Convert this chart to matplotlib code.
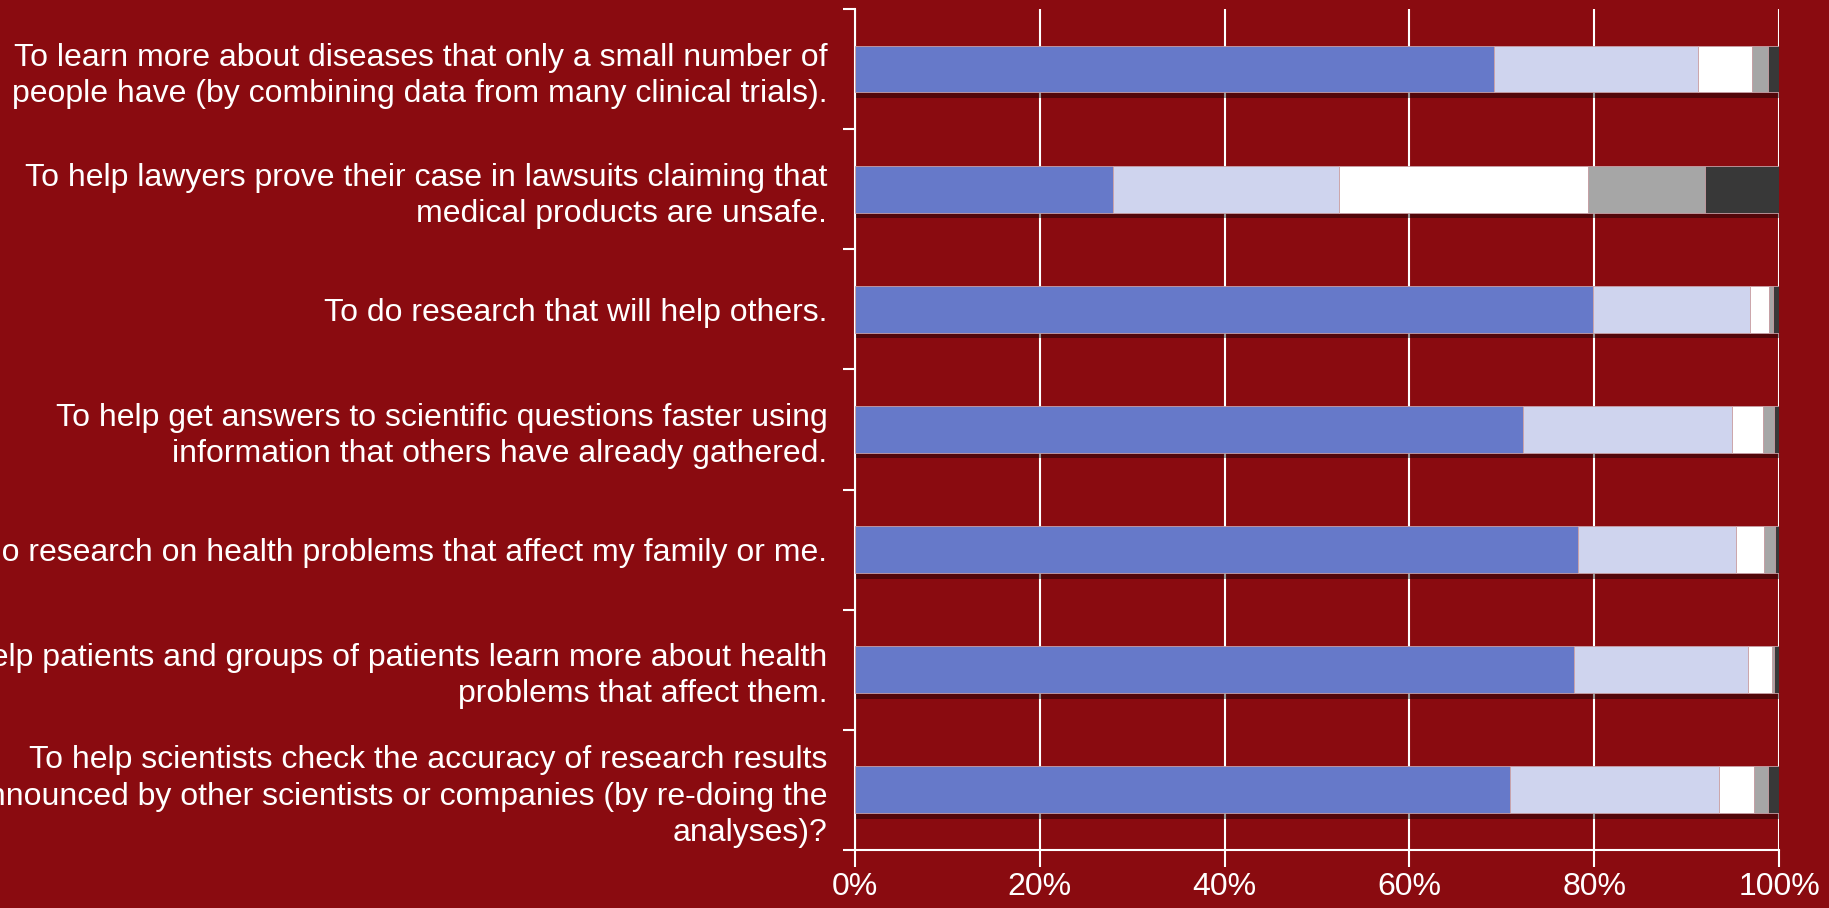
import matplotlib.pyplot as plt
import matplotlib.patheffects as pe
import numpy as np
from matplotlib.ticker import FixedLocator, PercentFormatter

plt.rcParams['font.family'] = ['Liberation Sans', 'DejaVu Sans']

categories = [
    "To learn more about diseases that only a small number of\npeople have (by combining data from many clinical trials).",
    "To help lawyers prove their case in lawsuits claiming that\nmedical products are unsafe.",
    "To do research that will help others.",
    "To help get answers to scientific questions faster using\ninformation that others have already gathered.",
    "To do research on health problems that affect my family or me.",
    "To help patients and groups of patients learn more about health\nproblems that affect them.",
    "To help scientists check the accuracy of research results\nannounced by other scientists or companies (by re-doing the\nanalyses)?",
]

# response shares per statement, in percent (stacked left to right)
resp_1 = [69.1, 27.9, 79.9, 72.3, 78.2, 77.8, 70.9]
resp_2 = [22.1, 24.5, 17.0, 22.6, 17.1, 18.8, 22.6]
resp_3 = [5.9, 26.9, 2.0, 3.4, 3.1, 2.6, 3.8]
resp_4 = [1.7, 12.7, 0.4, 1.2, 1.2, 0.3, 1.5]
resp_5 = [1.2, 8.0, 0.7, 0.5, 0.4, 0.5, 1.2]

series = [resp_1, resp_2, resp_3, resp_4, resp_5]
colors = ["#6679C9", "#CFD4EE", "#FFFFFF", "#A6A6A6", "#383838"]

bg = "#8A0B10"

fig = plt.figure(figsize=(18.29, 9.08), dpi=100, facecolor=bg)
ax = fig.add_axes([0.4675, 0.0639, 0.5052, 0.9262])
ax.set_facecolor(bg)

y = np.arange(len(categories))
left = np.zeros(len(categories))
shadow = [pe.SimplePatchShadow(offset=(1, -4), shadow_rgbFace="black", alpha=0.4), pe.Normal()]
for vals, c in zip(series, colors):
    vals = np.array(vals)
    bars = ax.barh(y, vals, left=left, height=0.39, color=c,
                   edgecolor="#C9A0A6", linewidth=0.6, zorder=3)
    for b in bars:
        b.set_path_effects(shadow)
    left += vals

ax.set_xlim(0, 100)
ax.set_ylim(len(categories) - 0.5, -0.5)

ax.xaxis.set_major_locator(FixedLocator([0, 20, 40, 60, 80, 100]))
ax.xaxis.set_major_formatter(PercentFormatter(decimals=0))
ax.grid(axis="x", color="white", linewidth=1.5, zorder=0)
ax.set_axisbelow(True)

ax.set_yticks(y)
ax.set_yticklabels(categories, ha="right", linespacing=1.27)
ax.yaxis.set_minor_locator(FixedLocator(np.arange(-0.5, len(categories), 1.0)))
ax.tick_params(axis="y", which="major", length=0, pad=20, labelsize=23, colors="white")
ax.tick_params(axis="y", which="minor", length=9, width=1.5, color="white", direction="out")
ax.tick_params(axis="x", length=12, width=1.5, color="white", labelsize=23,
               labelcolor="white", pad=4)

for s in ["top", "right"]:
    ax.spines[s].set_visible(False)
for s in ["left", "bottom"]:
    ax.spines[s].set_color("white")
    ax.spines[s].set_linewidth(1.5)

fig.savefig("out.png", dpi=100, facecolor=bg)
